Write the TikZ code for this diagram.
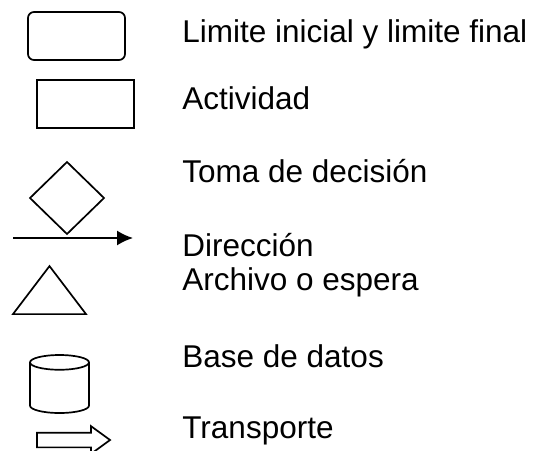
\documentclass[tikz,border=0pt]{standalone}
\usepackage{fontspec}
\setmainfont{Liberation Sans}
\usepackage{tikz}
\usetikzlibrary{shapes.geometric,shapes.arrows,arrows.meta}
\tikzstyle{sym} = [draw, line width=0.85pt, inner sep=0pt, outer sep=0pt]
\tikzstyle{label} = [anchor=base west, inner sep=0pt, font=\fontsize{15.75}{17}\selectfont]
\tikzstyle{line} = [draw, line width=0.85pt, -{Latex[length=8pt,width=7.5pt]}]

\begin{document}
\begin{tikzpicture}[x=0.5pt, y=-0.5pt]
\useasboundingbox (0,0) rectangle (535,450);

\node [sym, rectangle, rounded corners=3pt, minimum width=48.5pt, minimum height=24pt] (limite) at (76.5,36) {};
\node [sym, rectangle, minimum width=48.5pt, minimum height=24pt] (actividad) at (85.5,104) {};
\node [sym, diamond, minimum width=37pt, minimum height=36pt] (decision) at (67,198) {};

\coordinate (dirA) at (13,238);
\coordinate (dirB) at (133,238);
\path [line] (dirA) -- (dirB);

\node [sym, isosceles triangle, isosceles triangle stretches, rotate=90, minimum width=36.5pt, minimum height=24pt] (archivo) at (49.5,296) {};
\node [sym, cylinder, shape border rotate=90, aspect=0.25, inner xsep=14.75pt, minimum width=29.5pt, minimum height=29pt, anchor=south] (base) at (59.5,413) {};
\node [sym, single arrow, single arrow tip angle=72, single arrow head extend=3.25pt, inner ysep=3.25pt, minimum height=36.5pt] (transporte) at (68.5,440) {};

\node [label] (tlimite) at (182,42) {Limite inicial y limite final};
\node [label] (tactividad) at (182,109) {Actividad};
\node [label] (tdecision) at (182,182) {Toma de decisión};
\node [label] (tdireccion) at (182,256) {Dirección};
\node [label] (tarchivo) at (182,290) {Archivo o espera};
\node [label] (tbase) at (182,367) {Base de datos};
\node [label] (ttransporte) at (182,438) {Transporte};

\end{tikzpicture}
\end{document}
